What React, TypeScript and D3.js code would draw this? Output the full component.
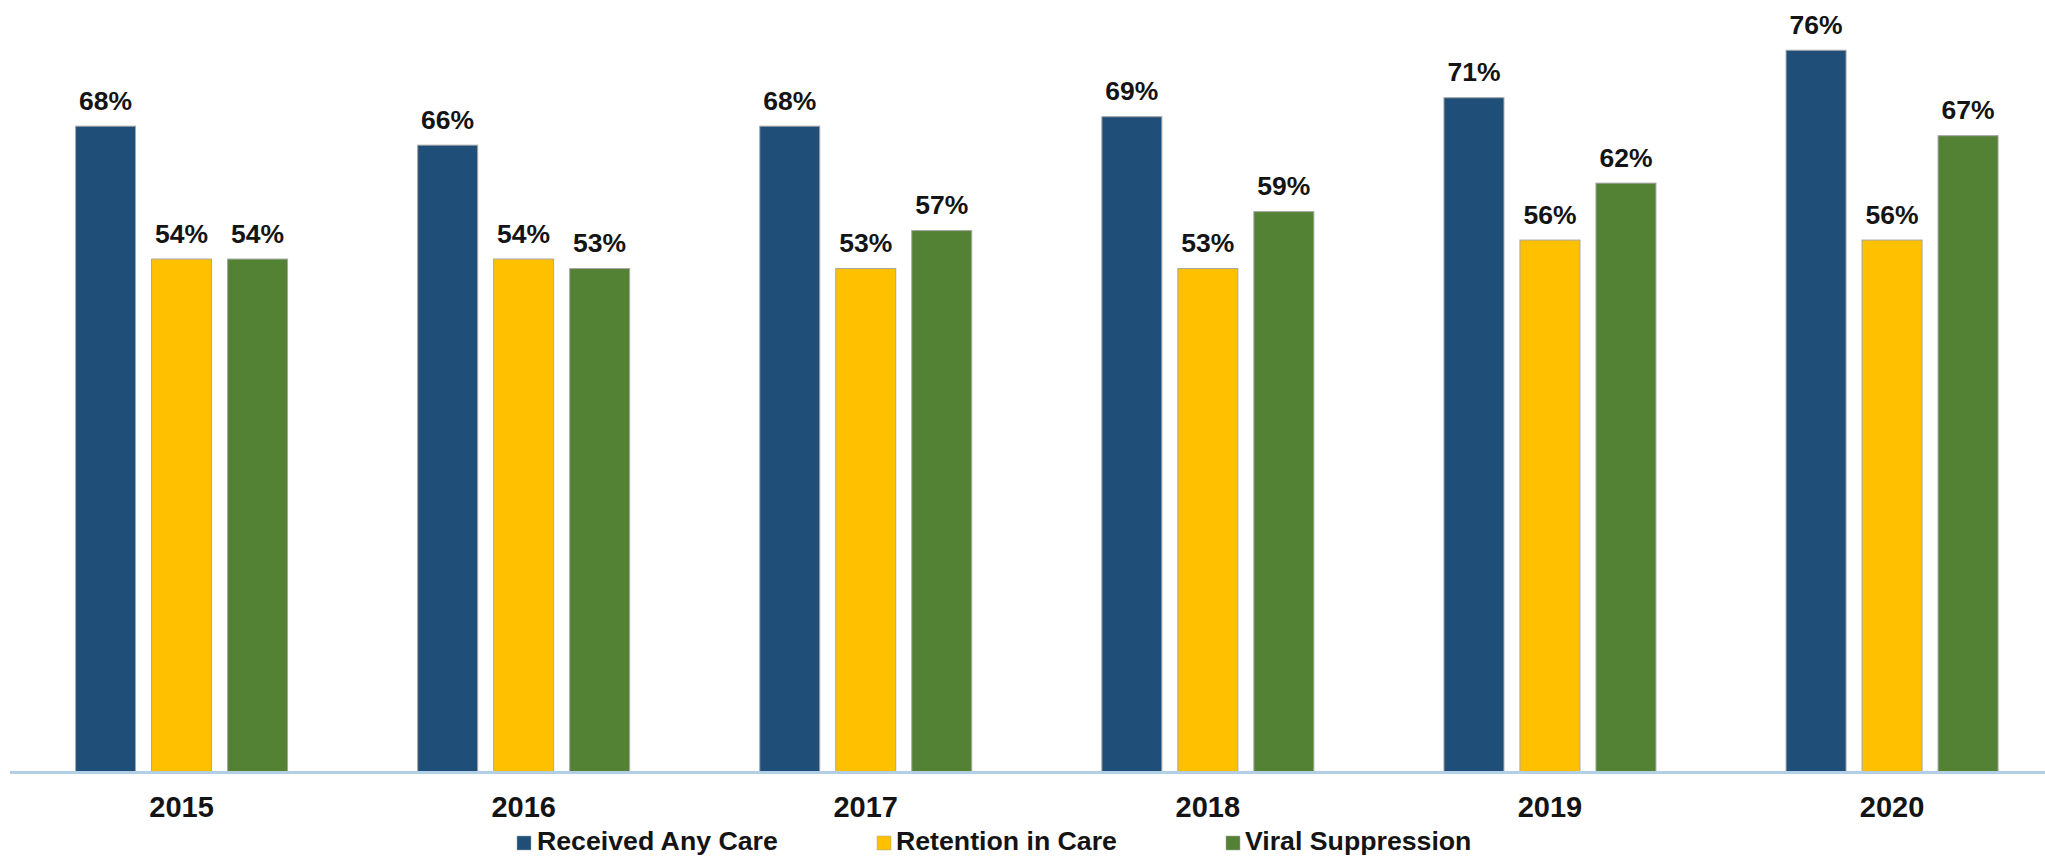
import React from "react";
import * as d3 from "d3";

const years = ["2015", "2016", "2017", "2018", "2019", "2020"];
const seriesNames = ["Received Any Care", "Retention in Care", "Viral Suppression"];
const receivedAnyCare = [68, 66, 68, 69, 71, 76];
const retentionInCare = [54, 54, 53, 53, 56, 56];
const viralSuppression = [54, 53, 57, 59, 62, 67];
const seriesColors = ["#1f4e79", "#ffc000", "#548235"];

const W = 2045;
const H = 858;
const baseY = 771.5;
const font = "Arial, 'Liberation Sans', sans-serif";

export default function App() {
  const seriesValues = [receivedAnyCare, retentionInCare, viralSuppression];
  const x0 = d3.scaleBand<string>().domain(years).range([10.5, 10.5 + 6 * 342.1]).padding(0);
  const x1 = d3
    .scaleBand<string>()
    .domain(seriesNames)
    .range([0, x0.bandwidth()])
    .paddingInner(0.2105)
    .paddingOuter(0.856);
  const y = d3.scaleLinear().domain([0, 80]).range([baseY, baseY - 80 * 9.49]);

  const legendItems = [
    { sq: 517, tx: 537 },
    { sq: 877, tx: 896 },
    { sq: 1226, tx: 1245 },
  ];

  return (
    <svg
      width={W}
      height={H}
      style={{ position: "absolute", left: 0, top: 0, background: "#fff" }}
      fontFamily={font}
    >
      {years.map((yr, i) => (
        <g key={yr} transform={`translate(${x0(yr)},0)`}>
          {seriesNames.map((s, j) => {
            const v = seriesValues[j][i];
            const bx = x1(s)!;
            const bw = x1.bandwidth();
            return (
              <g key={s}>
                <rect
                  x={bx}
                  y={y(v)}
                  width={bw}
                  height={baseY - y(v)}
                  fill={seriesColors[j]}
                  stroke="#a6a6a6"
                  strokeWidth={1}
                />
                <text
                  x={bx + bw / 2}
                  y={y(v) - 16.5}
                  textAnchor="middle"
                  fontSize={26.5}
                  fontWeight="bold"
                  fill="#141414"
                >
                  {v}%
                </text>
              </g>
            );
          })}
          <text
            x={x0.bandwidth() / 2}
            y={817}
            textAnchor="middle"
            fontSize={29}
            fontWeight="bold"
            fill="#141414"
          >
            {yr}
          </text>
        </g>
      ))}
      <line x1={10} x2={W} y1={772.5} y2={772.5} stroke="#b3cfe5" strokeWidth={3} />
      {seriesNames.map((s, j) => (
        <g key={s}>
          <rect x={legendItems[j].sq} y={836} width={14} height={14} fill={seriesColors[j]} stroke="#a6a6a6" strokeWidth={0.5} />
          <text x={legendItems[j].tx} y={850} fontSize={26.7} fontWeight="bold" fill="#141414">
            {s}
          </text>
        </g>
      ))}
    </svg>
  );
}
